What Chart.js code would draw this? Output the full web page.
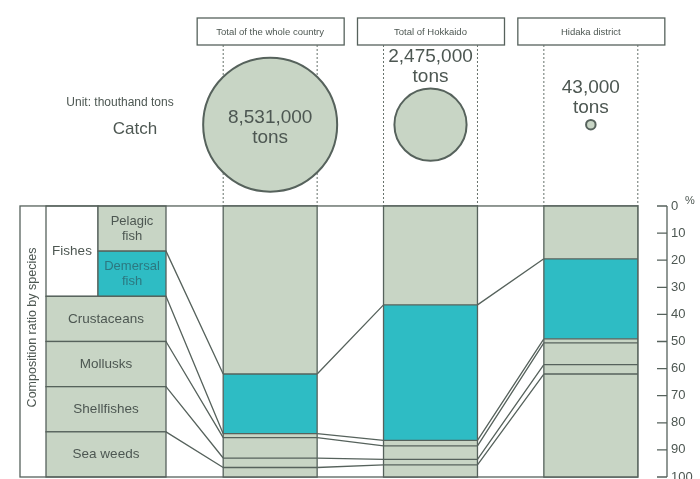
<!DOCTYPE html>
<html>
<head>
<meta charset="utf-8">
<script src="https://cdn.jsdelivr.net/npm/chart.js@4.4.1/dist/chart.umd.min.js"></script>
<style>
  html, body { margin: 0; padding: 0; background: #fff; overflow: hidden; }
  #wrap { width: 700px; height: 479px; overflow: hidden; }
</style>
</head>
<body>
<div id="wrap"><canvas id="catchChart" width="700" height="492"></canvas></div>
<script>
// regions compared
var categories = ['Total of the whole country', 'Total of Hokkaido', 'Hidaka district'];
// catch in tons
var catchTons = [8531000, 2475000, 43000];
var catchLabels = ['8,531,000', '2,475,000', '43,000'];

// composition ratio by species, % (top to bottom)
var species = ['Pelagic fish', 'Demersal fish', 'Crustaceans', 'Mollusks', 'Shellfishes', 'Sea weeds'];
var pelagic = [62, 36.5, 19.5];
var demersal = [22, 50, 29.5];
var crustaceans = [1.5, 2, 1.5];
var mollusks = [7.5, 5, 8];
var shellfishes = [3.5, 2, 3.5];
var seaWeeds = [3.5, 4.5, 38];

var percentTicks = [0, 10, 20, 30, 40, 50, 60, 70, 80, 90, 100];

var sage = '#c8d5c5';
var teal = '#2ebcc4';
var ink = '#56625c';
var textInk = '#4d5752';
var seriesList = [pelagic, demersal, crustaceans, mollusks, shellfishes, seaWeeds];
var fills = [sage, teal, sage, sage, sage, sage];
var fontFamily = '"Liberation Sans", Arial, sans-serif';

function cumulative(i, k) {
    var s = 0;
    for (var j = 0; j <= k; j++) s += seriesList[j][i];
    return s;
}

function barEdges(chart) {
    return chart.getDatasetMeta(0).data.map(function(b) {
        return [b.x - b.width / 2, b.x + b.width / 2];
    });
}

var drawing = {
    id: 'drawing',
    beforeDatasetsDraw: function(chart) {
        var ctx = chart.ctx;
        var y = chart.scales.y;
        var bars = chart.getDatasetMeta(0).data;
        var edges = barEdges(chart);
        var top = y.getPixelForValue(0);
        var bottom = y.getPixelForValue(100);
        var frameLeft = 20, col1 = 46, col2 = 98, legendRight = 166;
        var rowY = function(j) { return y.getPixelForValue(100 * j / 6); };

        ctx.save();
        ctx.lineWidth = 1.3;
        ctx.strokeStyle = ink;

        // legend cells
        function cell(x0, y0, x1, y1, fill) {
            ctx.fillStyle = fill;
            ctx.fillRect(x0, y0, x1 - x0, y1 - y0);
            ctx.strokeRect(x0, y0, x1 - x0, y1 - y0);
        }
        cell(col1, rowY(0), col2, rowY(2), '#ffffff');
        cell(col2, rowY(0), legendRight, rowY(1), fills[0]);
        cell(col2, rowY(1), legendRight, rowY(2), fills[1]);
        for (var k = 2; k < 6; k++) cell(col1, rowY(k), legendRight, rowY(k + 1), fills[k]);

        // outer frame
        ctx.strokeRect(frameLeft, top, edges[2][1] - frameLeft, bottom - top);

        // legend text
        ctx.textAlign = 'center';
        ctx.textBaseline = 'middle';
        ctx.font = '13.5px ' + fontFamily;
        ctx.fillStyle = textInk;
        ctx.fillText('Fishes', (col1 + col2) / 2, (rowY(0) + rowY(2)) / 2);
        var cx2 = (col2 + legendRight) / 2;
        ctx.font = '13px ' + fontFamily;
        var pel = species[0].split(' ');
        ctx.fillText(pel[0], cx2, (rowY(0) + rowY(1)) / 2 - 7);
        ctx.fillText(pel[1], cx2, (rowY(0) + rowY(1)) / 2 + 8);
        var dem = species[1].split(' ');
        ctx.fillStyle = '#2c7880';
        ctx.fillText(dem[0], cx2, (rowY(1) + rowY(2)) / 2 - 7);
        ctx.fillText(dem[1], cx2, (rowY(1) + rowY(2)) / 2 + 8);
        ctx.fillStyle = textInk;
        ctx.font = '13.5px ' + fontFamily;
        for (k = 2; k < 6; k++) {
            ctx.fillText(species[k], (col1 + legendRight) / 2, (rowY(k) + rowY(k + 1)) / 2);
        }
        ctx.save();
        ctx.translate(33, (top + bottom) / 2 - 14);
        ctx.rotate(-Math.PI / 2);
        ctx.font = '12.5px ' + fontFamily;
        ctx.fillText('Composition ratio by species', 0, 0);
        ctx.restore();

        // connector lines
        ctx.beginPath();
        for (k = 0; k < 5; k++) {
            ctx.moveTo(legendRight, rowY(k + 1));
            ctx.lineTo(edges[0][0], y.getPixelForValue(cumulative(0, k)));
            for (var i = 0; i < bars.length - 1; i++) {
                ctx.moveTo(edges[i][1], y.getPixelForValue(cumulative(i, k)));
                ctx.lineTo(edges[i + 1][0], y.getPixelForValue(cumulative(i + 1, k)));
            }
        }
        ctx.stroke();

        // header boxes and dotted guides
        bars.forEach(function(b, i) {
            ctx.lineWidth = 1.3;
            ctx.strokeStyle = ink;
            ctx.setLineDash([]);
            ctx.strokeRect(b.x - 73, 18, 147, 27);
            ctx.font = '9.5px ' + fontFamily;
            ctx.fillStyle = textInk;
            ctx.fillText(categories[i], b.x, 32);
            ctx.lineWidth = 1;
            ctx.strokeStyle = '#66716b';
            ctx.setLineDash([2, 2]);
            ctx.beginPath();
            ctx.moveTo(edges[i][0], 45); ctx.lineTo(edges[i][0], top);
            ctx.moveTo(edges[i][1], 45); ctx.lineTo(edges[i][1], top);
            ctx.stroke();
        });
        ctx.setLineDash([]);

        // unit caption
        ctx.fillStyle = textInk;
        ctx.font = '12px ' + fontFamily;
        ctx.fillText('Unit: thouthand tons', 120, 103);
        ctx.font = '17px ' + fontFamily;
        ctx.fillText('Catch', 135, 129);
        ctx.restore();
    },
    afterDatasetsDraw: function(chart) {
        var ctx = chart.ctx;
        var y = chart.scales.y;
        var edges = barEdges(chart);
        ctx.save();

        // bar outlines and species boundaries
        ctx.strokeStyle = ink;
        ctx.lineWidth = 1.3;
        ctx.beginPath();
        edges.forEach(function(e, i) {
            ctx.rect(e[0], y.getPixelForValue(0), e[1] - e[0], y.getPixelForValue(100) - y.getPixelForValue(0));
            for (var k = 0; k < 5; k++) {
                var py = y.getPixelForValue(cumulative(i, k));
                ctx.moveTo(e[0], py);
                ctx.lineTo(e[1], py);
            }
        });
        ctx.stroke();

        // catch labels
        var meta = chart.getDatasetMeta(6);
        ctx.textAlign = 'center';
        ctx.textBaseline = 'middle';
        ctx.fillStyle = textInk;
        ctx.font = '19px ' + fontFamily;
        meta.data.forEach(function(pt, i) {
            var r = pt.options.radius;
            if (r > 50) {
                ctx.fillText(catchLabels[i], pt.x, pt.y - 7);
                ctx.fillText('tons', pt.x, pt.y + 13);
            } else {
                ctx.fillText('tons', pt.x, pt.y - r - 12);
                ctx.fillText(catchLabels[i], pt.x, pt.y - r - 32);
            }
        });

        // percent axis
        var ax = chart.chartArea.right - 4;
        ctx.beginPath();
        ctx.moveTo(ax, y.getPixelForValue(0));
        ctx.lineTo(ax, y.getPixelForValue(100));
        percentTicks.forEach(function(v) {
            var py = y.getPixelForValue(v);
            ctx.moveTo(ax - 10, py);
            ctx.lineTo(ax, py);
        });
        ctx.stroke();
        ctx.font = '11px ' + fontFamily;
        ctx.fillText('%', 690, 201);
        ctx.restore();
    }
};

var datasets = species.map(function(name, k) {
    return {
        type: 'bar',
        label: name,
        data: seriesList[k],
        backgroundColor: fills[k],
        borderWidth: 0,
        inflateAmount: 0,
        barPercentage: 0.586,
        categoryPercentage: 1
    };
});
datasets.push({
    type: 'bubble',
    label: 'Catch',
    data: catchTons.map(function(v, i) {
        return { x: categories[i], y: -30, r: 67 * Math.sqrt(v / catchTons[0]) };
    }),
    backgroundColor: sage,
    borderColor: ink,
    borderWidth: 2
});

new Chart(document.getElementById('catchChart'), {
    type: 'bar',
    data: { labels: categories, datasets: datasets },
    options: {
        responsive: false,
        animation: false,
        layout: { autoPadding: false, padding: { left: 190, top: 0, right: 0, bottom: 15 } },
        plugins: { legend: { display: false }, tooltip: { enabled: false } },
        scales: {
            x: { type: 'category', stacked: true, display: false },
            y: {
                type: 'linear',
                position: 'right',
                reverse: true,
                stacked: true,
                min: -76,
                max: 100,
                afterBuildTicks: function(scale) {
                    scale.ticks = percentTicks.map(function(v) { return { value: v }; });
                },
                afterFit: function(scale) {
                    scale.width = 29;
                    scale.paddingTop = 0;
                    scale.paddingBottom = 0;
                },
                grid: { display: false, drawTicks: false },
                border: { display: false },
                ticks: {
                    padding: 0,
                    color: '#4d5752',
                    font: { size: 13, family: fontFamily }
                }
            }
        }
    },
    plugins: [drawing]
});
</script>
</body>
</html>
